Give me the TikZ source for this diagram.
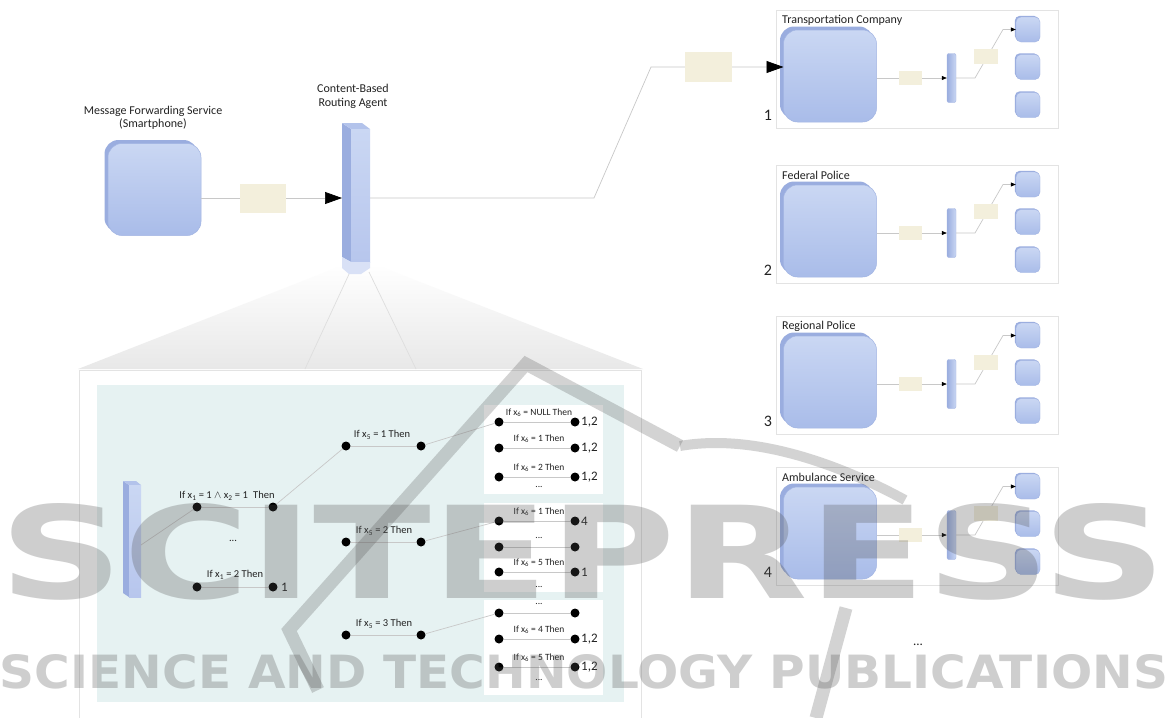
\documentclass[tikz,border=0pt]{standalone}
\usepackage{fontspec}
\setmainfont{Carlito}
\newfontfamily\wmfont{DejaVu Sans}
\usetikzlibrary{arrows.meta,shadows}
\definecolor{bluetop}{HTML}{CAD7F3}
\definecolor{bluebot}{HTML}{A9BCE9}
\definecolor{blueback}{HTML}{9AADDF}
\definecolor{blueedge}{HTML}{A3B5E3}
\definecolor{bluemid}{HTML}{B7C6ED}
\definecolor{bluefade}{HTML}{D9E1F6}
\definecolor{bluetopface}{HTML}{B3C3EB}
\definecolor{msgc}{HTML}{F3EFDC}
\definecolor{panelc}{HTML}{E6F2F2}
\definecolor{connc}{HTML}{C8C8C8}
\definecolor{boxedge}{HTML}{E3E3E3}
\definecolor{txt}{HTML}{222222}
\definecolor{wmc}{HTML}{505050}
\tikzset{
 conn/.style={draw=connc, line width=0.7pt},
 bigarrow/.style={-{Triangle[length=17pt,width=12pt,color=black]}},
 smallarrow/.style={-{Triangle[length=5pt,width=4pt,color=black]}},
 bigblue/.style={rectangle, rounded corners=14pt, minimum width=93pt, minimum height=92pt, inner sep=0, top color=bluetop, bottom color=bluebot, draw=blueedge, line width=0.5pt, general shadow={fill=blueback, shadow xshift=-3.5pt, shadow yshift=3.5pt}},
 sqblue/.style={rectangle, rounded corners=5pt, minimum width=24pt, minimum height=25pt, inner sep=0, top color=bluetop, bottom color=bluebot, draw=blueedge, line width=0.4pt, general shadow={fill=blueback, shadow xshift=-1.2pt, shadow yshift=1.2pt}},
 barblue/.style={rectangle, rounded corners=2pt, minimum width=9pt, minimum height=49pt, inner sep=0, left color=blueback, right color=bluetop, draw=blueedge, line width=0.4pt},
 msgbox/.style={rectangle, fill=msgc, inner sep=0},
 dot/.style={circle, fill=black, minimum size=9pt, inner sep=0},
 lbl/.style={font=\fontsize{10.5}{12}\selectfont, text=txt, inner sep=0},
 smalllbl/.style={font=\fontsize{9.5}{11}\selectfont, text=txt, inner sep=0},
 numlbl/.style={font=\fontsize{13}{15}\selectfont, text=txt, inner sep=0},
 titlelbl/.style={font=\fontsize{12}{14}\selectfont, text=txt, inner sep=0},
 boxnum/.style={font=\fontsize{16}{18}\selectfont, text=txt, inner sep=0},
 orgbox/.style={draw=boxedge, line width=0.8pt, fill=white},
 wm/.style={text=wmc, text opacity=0.28, inner sep=0},
 wmstroke/.style={draw=wmc, draw opacity=0.25, line width=13pt, line cap=butt, line join=miter},
}
\begin{document}
\begin{tikzpicture}[x=1pt,y=-1pt]
\useasboundingbox (0,0) rectangle (1171,718);
\fill[white] (0,0) rectangle (1171,718);

% ---------- zoom funnel and panel ----------
\shade[top color=white, bottom color=black!9] (341,266) -- (374,264) -- (643,369) -- (78,369) -- cycle;
\coordinate (z1) at (350,272); \coordinate (z2) at (305,369);
\coordinate (z3) at (369,272); \coordinate (z4) at (416,369);
\draw[conn, draw=black!13] (z1) -- (z2);
\draw[conn, draw=black!13] (z3) -- (z4);
\draw[orgbox] (79,370) rectangle (641,740);
\fill[panelc] (97,385) rectangle (624,702);
\fill[white] (484,405) rectangle (603,494);
\fill[white] (484,503) rectangle (603,592);
\fill[white] (484,600) rectangle (603,695);

% ---------- left service ----------
\node[bigblue] (phone) at (154.5,189.5) {};
\node[titlelbl] (phonelbl1) at (153,111) {Message Forwarding Service};
\node[titlelbl] (phonelbl2) at (153,124) {(Smartphone)};

% ---------- routing agent ----------
\fill[blueback] (342,123) -- (351,129) -- (351,262) -- (342,257) -- cycle;
\fill[bluetopface] (342,123) -- (362,123) -- (370,129) -- (351,129) -- cycle;
\node[rectangle, inner sep=0, minimum width=19pt, minimum height=133pt, top color=bluetop, bottom color=bluemid] (agent) at (360.5,195.5) {};
\fill[bluefade] (342,257) -- (351,262) -- (370,262) -- (370,268) -- (361,274) -- (349,274) -- (342,268) -- cycle;
\node[titlelbl] (agentlbl1) at (353,88) {Content-Based};
\node[titlelbl] (agentlbl2) at (353,103) {Routing Agent};
\coordinate (agentL) at (342,198);
\coordinate (agentR) at (370,198);
\draw[conn, bigarrow] (phone.east |- agentL) -- (agentL);
\node[msgbox, minimum width=46pt, minimum height=29pt] (m0) at (263,198.5) {};

% ---------- organisations ----------
\foreach \k/\T/\name in {1/10/Transportation Company, 2/165/Federal Police, 3/316/Regional Police, 4/467/Ambulance Service} {
 \draw[orgbox] (776,\T) rectangle (1058,\T+118);
 \node[titlelbl, anchor=west] (title\k) at (782,\T+10) {\name};
 \node[boxnum] (num\k) at (768,\T+105) {\k};
 \node[bigblue] (big\k) at (830,\T+66) {};
 \node[barblue] (bar\k) at (951.5,\T+68) {};
 \node[sqblue] (sqa\k) at (1028,\T+19.5) {};
 \node[sqblue] (sqb\k) at (1028,\T+57) {};
 \node[sqblue] (sqc\k) at (1028,\T+95) {};
 \coordinate (bend\k) at (975,\T+68);
 \coordinate (up\k) at (1003,\T+19.5);
 \draw[conn, smallarrow] (big\k.east |- bar\k.west) -- (bar\k.west);
 \draw[conn, smallarrow] (bar\k.east) -- (bend\k) -- (up\k) -- (sqa\k.west);
 \node[msgbox, minimum width=23pt, minimum height=14pt] (ma\k) at (910,\T+68) {};
 \node[msgbox, minimum width=24pt, minimum height=15pt] (mb\k) at (986,\T+46) {};
}
\node[numlbl] (moreorg) at (918,645) {...};

% main connector to transportation company
\coordinate (k1) at (594,198);
\coordinate (k2) at (651,67);
\coordinate (in1) at (783.5,67);
\draw[conn, bigarrow] (agentR) -- (k1) -- (k2) -- (in1);
\node[msgbox, minimum width=47pt, minimum height=30pt] (m1) at (708,66.5) {};

% ---------- decision tree ----------
\fill[blueback] (123,481) -- (129,485) -- (129,597) -- (123,593) -- cycle;
\fill[bluetopface] (123,481) -- (136,481) -- (141,485) -- (129,485) -- cycle;
\node[rectangle, inner sep=0, minimum width=12pt, minimum height=112pt, top color=bluetop, bottom color=bluemid] (pbar) at (135,541) {};
\coordinate (pbarout) at (141,545);

\node[dot] (a1) at (197,507) {};
\node[dot] (a2) at (273,507) {};
\node[dot] (b1) at (197,587) {};
\node[dot] (b2) at (273,587) {};
\node[dot] (c1) at (346,446) {};
\node[dot] (c2) at (421,446) {};
\node[dot] (d1) at (346,542) {};
\node[dot] (d2) at (421,542) {};
\node[dot] (e1) at (346,635) {};
\node[dot] (e2) at (421,635) {};
\draw[conn] (pbarout) -- (a1);
\draw[conn] (a1) -- (a2);
\draw[conn] (b1) -- (b2);
\draw[conn] (c1) -- (c2);
\draw[conn] (d1) -- (d2);
\draw[conn] (e1) -- (e2);
\draw[conn] (a2) -- (c1);
\node[lbl] (la) at (227,496) {If x\textsubscript{1} = 1 $\wedge$ x\textsubscript{2} = 1\enspace Then};
\node[lbl] (ldots) at (233,541) {...};
\node[lbl] (lb) at (235,575) {If x\textsubscript{1} = 2 Then};
\node[numlbl, anchor=west] (lb2) at (281,587) {1};
\node[lbl] (lc) at (382,435) {If x\textsubscript{5} = 1 Then};
\node[lbl] (ld) at (384,531) {If x\textsubscript{5} = 2 Then};
\node[lbl] (le) at (384,624) {If x\textsubscript{5} = 3 Then};

\foreach \n/\y/\t/\r in {
 11/422/{If x\textsubscript{6} = NULL Then}/{1,2},
 12/448/{If x\textsubscript{6} = 1 Then}/{1,2},
 13/477/{If x\textsubscript{6} = 2 Then}/{1,2},
 21/521/{If x\textsubscript{6} = 1 Then}/{4},
 22/547/{...}/{},
 23/572/{If x\textsubscript{6} = 5 Then}/{1},
 31/613/{...}/{},
 32/639/{If x\textsubscript{6} = 4 Then}/{1,2},
 33/667/{If x\textsubscript{6} = 5 Then}/{1,2}}
{
 \node[dot] (l\n) at (499,\y) {};
 \node[dot] (r\n) at (575,\y) {};
 \draw[conn] (l\n) -- (r\n);
 \node[smalllbl] (t\n) at (539,\y-9) {\t};
 \node[numlbl, anchor=west] (o\n) at (581,\y) {\r};
}
\node[smalllbl] (g1) at (539,487) {...};
\node[smalllbl] (g2) at (539,587) {...};
\node[smalllbl] (g3) at (539,680) {...};
\draw[conn] (c2) -- (l11);
\draw[conn] (d2) -- (l21);
\draw[conn] (e2) -- (l31);

% ---------- watermark ----------
\node[wm] (wm1) at (583,552) {\resizebox{1166pt}{95pt}{\wmfont\bfseries SCITEPRESS}};
\node[wm] (wm2) at (584,672) {\resizebox{1168pt}{34pt}{\wmfont\bfseries SCIENCE AND TECHNOLOGY PUBLICATIONS}};
\coordinate (w1) at (318,690); \coordinate (w2) at (289,630);
\coordinate (w3) at (526,364); \coordinate (w4) at (680,446);
\coordinate (w5) at (905,500);
\coordinate (w6) at (816,718); \coordinate (w7) at (846,608);
\draw[wmstroke] (w1) -- (w2) -- (w3) -- (w4);
\draw[wmstroke, line width=10pt] (w4) .. controls (760,432) and (850,470) .. (w5);
\draw[wmstroke] (w6) -- (w7);
\end{tikzpicture}
\end{document}
